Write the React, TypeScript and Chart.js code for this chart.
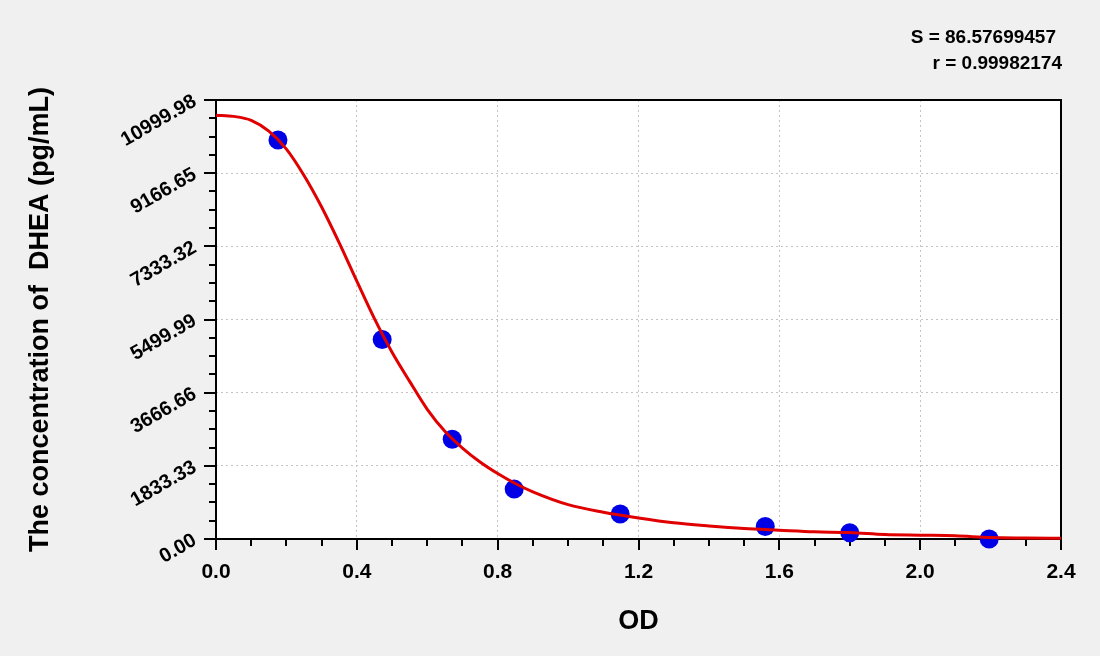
import { useEffect, useRef } from "react";
import { Chart, registerables } from "chart.js";

Chart.register(...registerables);

// standards (OD vs concentration)
const standardOd = [0.176, 0.472, 0.671, 0.847, 1.148, 1.56, 1.8, 2.196];
const standardConc = [10000, 5000, 2500, 1250, 625, 312.5, 156, 0];

// fitted curve
const curveOd = [
  0, 0.05, 0.1, 0.15, 0.2, 0.25, 0.3, 0.35, 0.4, 0.45, 0.5, 0.55, 0.6, 0.65, 0.7, 0.75,
  0.8, 0.85, 0.9, 1.0, 1.1, 1.2, 1.3, 1.4, 1.5, 1.6, 1.7, 1.8, 1.9, 2.0, 2.1, 2.2, 2.3, 2.4,
];
const curveConc = [
  10620, 10590, 10490, 10220, 9770, 9110, 8320, 7420, 6460, 5520, 4680, 3950, 3250, 2700, 2280, 1930,
  1640, 1390, 1180, 860, 670, 526, 405, 326, 262, 220, 180, 160, 110, 95, 80, 35, 25, 20,
];

const xTickValues = [0, 0.4, 0.8, 1.2, 1.6, 2.0, 2.4];
const xTickLabels = ["0.0", "0.4", "0.8", "1.2", "1.6", "2.0", "2.4"];
const yTickValues = [0, 1833.33, 3666.66, 5499.99, 7333.32, 9166.65, 10999.98];
const yTickLabels = ["0.00", "1833.33", "3666.66", "5499.99", "7333.32", "9166.65", "10999.98"];

const FONT = "'Liberation Sans', Arial, sans-serif";

const subdivide = (vals: number[], n: number) => {
  const out: number[] = [];
  for (let i = 0; i < vals.length - 1; i++) {
    for (let k = 1; k < n; k++) out.push(vals[i] + ((vals[i + 1] - vals[i]) * k) / n);
  }
  return out;
};

const framePlugin = {
  id: "frame",
  beforeDraw(chart: any) {
    const { ctx, chartArea: a } = chart;
    ctx.save();
    ctx.fillStyle = "#ffffff";
    ctx.fillRect(a.left, a.top, a.right - a.left, a.bottom - a.top);
    ctx.restore();
  },
  beforeDatasetsDraw(chart: any) {
    const { ctx, chartArea: a, scales } = chart;
    ctx.save();
    ctx.strokeStyle = "#000";
    ctx.lineWidth = 2;
    ctx.strokeRect(a.left, a.top, a.right - a.left, a.bottom - a.top);
    ctx.beginPath();
    xTickValues.forEach((v) => {
      const px = Math.round(scales.x.getPixelForValue(v));
      ctx.moveTo(px, a.bottom);
      ctx.lineTo(px, a.bottom + 11);
    });
    subdivide(xTickValues, 4).forEach((v) => {
      const px = Math.round(scales.x.getPixelForValue(v));
      ctx.moveTo(px, a.bottom);
      ctx.lineTo(px, a.bottom + 7);
    });
    yTickValues.forEach((v) => {
      const py = Math.round(scales.y.getPixelForValue(v));
      ctx.moveTo(a.left, py);
      ctx.lineTo(a.left - 12, py);
    });
    subdivide(yTickValues, 4).forEach((v) => {
      const py = Math.round(scales.y.getPixelForValue(v));
      ctx.moveTo(a.left, py);
      ctx.lineTo(a.left - 7, py);
    });
    ctx.stroke();
    ctx.restore();
  },
};

export default function App() {
  const canvasRef = useRef<HTMLCanvasElement>(null);

  useEffect(() => {
    document.body.style.margin = "0";
    const chart = new Chart(canvasRef.current!, {
      type: "scatter",
      data: {
        datasets: [
          {
            type: "line",
            data: curveOd.map((x, i) => ({ x, y: curveConc[i] })),
            borderColor: "#e00000",
            borderWidth: 3,
            pointRadius: 0,
            fill: false,
            cubicInterpolationMode: "monotone",
            clip: false,
          },
          {
            type: "scatter",
            data: standardOd.map((x, i) => ({ x, y: standardConc[i] })),
            backgroundColor: "#0000e6",
            borderColor: "#0000e6",
            pointRadius: 9.5,
            borderWidth: 0,
            clip: false,
          },
        ],
      } as any,
      options: {
        responsive: false,
        animation: false,
        layout: { padding: { top: 100, right: 39, left: 0, bottom: 0 } },
        plugins: { legend: { display: false }, tooltip: { enabled: false } },
        scales: {
          x: {
            type: "linear",
            min: 0,
            max: 2.4,
            afterBuildTicks: (s: any) => {
              s.ticks = xTickValues.map((value) => ({ value }));
            },
            afterFit: (s: any) => {
              s.height = 117;
            },
            ticks: {
              autoSkip: false,
              maxRotation: 0,
              padding: 21,
              color: "#000",
              font: { family: FONT, size: 21, weight: "bold" },
              callback: (_v: any, i: number) => xTickLabels[i],
            },
            grid: { color: "#c4c4c4", lineWidth: 1, drawTicks: false },
            border: { display: false, dash: [2, 3] },
            title: {
              display: true,
              text: "OD",
              color: "#000",
              font: { family: FONT, size: 27, weight: "bold" },
              padding: { top: 0, bottom: 18 },
            },
          },
          y: {
            type: "linear",
            min: 0,
            max: 10999.98,
            afterBuildTicks: (s: any) => {
              s.ticks = yTickValues.map((value) => ({ value }));
            },
            afterFit: (s: any) => {
              s.width = 216;
            },
            ticks: {
              autoSkip: false,
              minRotation: 30,
              maxRotation: 30,
              padding: 21,
              color: "#000",
              font: { family: FONT, size: 20, weight: "bold" },
              callback: (_v: any, i: number) => yTickLabels[i],
            },
            grid: { color: "#c4c4c4", lineWidth: 1, drawTicks: false },
            border: { display: false, dash: [2, 3] },
            title: {
              display: true,
              text: "The concentration of  DHEA (pg/mL)",
              color: "#000",
              font: { family: FONT, size: 27, weight: "bold" },
              padding: { top: 24, bottom: 0 },
            },
          },
        },
      } as any,
      plugins: [framePlugin],
    });
    return () => chart.destroy();
  }, []);

  const statStyle = {
    position: "absolute" as const,
    fontFamily: FONT,
    fontWeight: "bold" as const,
    fontSize: "19px",
    lineHeight: "22px",
    color: "#000",
    whiteSpace: "nowrap" as const,
  };

  return (
    <div style={{ position: "relative", width: 1100, height: 656, background: "#f0f0f0", overflow: "hidden" }}>
      <canvas ref={canvasRef} width={1100} height={656} style={{ display: "block" }} />
      <div style={{ ...statStyle, right: 44, top: 26 }}>S = 86.57699457</div>
      <div style={{ ...statStyle, right: 38, top: 52 }}>r = 0.99982174</div>
    </div>
  );
}
